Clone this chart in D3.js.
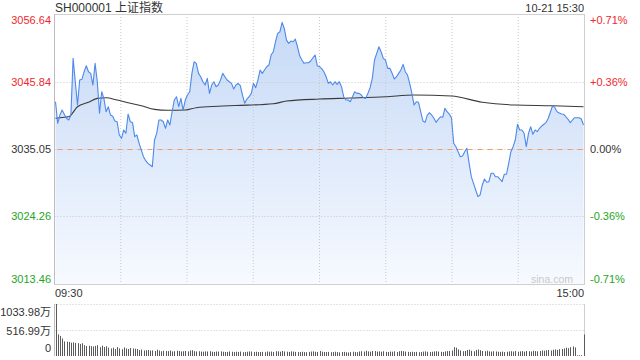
<!DOCTYPE html>
<html><head><meta charset="utf-8">
<script src="https://cdn.jsdelivr.net/npm/d3@7/dist/d3.min.js"></script>
<style>
html,body{margin:0;padding:0;background:#fff;}
svg{display:block;font-family:"Liberation Sans",Arial,"Noto Sans CJK SC",sans-serif;}
</style></head><body>
<svg id="c" width="640" height="360"></svg>
<script>
// ---- data ----
const title = "SH000001 上证指数";
const stamp = "10-21 15:30";
const preClose = 3035.05;
const priceTicks = [3056.64, 3045.84, 3035.05, 3024.26, 3013.46];
const pctTicks = ["+0.71%", "+0.36%", "0.00%", "-0.36%", "-0.71%"];
const timeLabels = ["09:30", "15:00"];
const volTicks = [1033.98, 516.99, 0];
const volTickLabels = ["1033.98万", "516.99万", "0"];

// one value per trading minute, 09:30 .. 11:30, 13:01 .. 15:00
const prices = [
3042.61,3039.16,3040.48,3041.28,3040.60,3039.96,3039.69,3040.48,3049.55,3045.81,
3042.08,3046.08,3046.20,3047.41,3048.37,3047.41,3047.15,3045.28,3048.75,3045.81,
3040.76,3044.21,3043.15,3041.01,3041.81,3040.48,3040.30,3039.53,3039.41,3037.29,
3036.76,3038.09,3037.56,3040.64,3039.41,3039.30,3037.02,3037.29,3035.96,3034.89,
3033.82,3033.18,3032.76,3032.49,3032.22,3036.49,3037.56,3039.69,3039.69,3039.41,
3038.36,3039.69,3038.89,3041.01,3042.88,3043.41,3041.81,3043.15,3041.28,3042.88,
3043.68,3044.21,3047.15,3049.00,3048.75,3047.15,3046.61,3045.81,3045.28,3046.35,
3043.95,3045.28,3045.81,3045.01,3045.28,3046.08,3047.15,3046.61,3046.08,3045.80,
3045.55,3044.64,3045.28,3045.55,3045.17,3043.68,3042.36,3043.04,3043.41,3043.95,
3045.55,3044.85,3046.08,3047.68,3047.15,3047.68,3048.21,3048.48,3050.08,3050.60,
3052.20,3053.54,3053.80,3055.30,3054.34,3052.47,3051.95,3052.31,3052.20,3052.63,
3051.40,3049.96,3049.28,3048.75,3048.84,3048.84,3049.12,3049.64,3050.08,3048.37,
3048.21,3047.90,3047.41,3046.61,3045.55,3045.81,3045.28,3045.81,3045.39,3045.81,
3045.01,3043.41,3042.88,3042.88,3042.61,3043.41,3044.21,3043.95,3043.95,3043.68,
3043.25,3043.15,3043.95,3044.85,3046.35,3049.28,3050.35,3051.40,3050.60,3049.55,
3049.28,3047.95,3047.95,3047.15,3046.24,3046.61,3047.15,3047.68,3048.59,3047.41,
3046.88,3045.55,3043.95,3042.08,3042.61,3042.52,3041.01,3039.53,3039.32,3040.48,
3040.85,3040.48,3039.96,3039.32,3039.80,3040.21,3040.12,3041.55,3041.01,3040.64,
3040.00,3035.96,3035.42,3034.62,3033.82,3033.93,3034.62,3035.16,3032.80,3030.62,
3029.56,3028.49,3027.43,3027.70,3029.30,3030.25,3029.73,3029.82,3031.17,3031.17,
3030.62,3030.62,3030.25,3029.82,3031.01,3031.01,3032.76,3034.62,3035.42,3036.49,
3039.00,3038.09,3038.09,3037.56,3035.42,3037.56,3038.61,3037.40,3038.09,3037.82,
3038.36,3038.72,3039.00,3039.32,3039.96,3041.01,3042.00,3041.65,3041.01,3040.80,
3040.64,3040.60,3040.21,3039.80,3039.26,3039.69,3040.05,3040.05,3040.05,3039.85,
3038.89
];

// average price line, read at these minute indexes
const avgMinutes = [0,5,6,10,15,19,23,28,33,39,45,51,59,64,74,82,99,105,120,134,150,163,180,194,209,226,240];
const avgPrices = [3039.96,3040.17,3040.21,3041.81,3042.52,3043.15,3043.25,3042.88,3042.45,3041.97,
3041.39,3041.24,3041.28,3041.65,3041.88,3042.00,3042.29,3042.72,3043.04,3043.20,
3043.41,3043.68,3043.52,3042.52,3042.08,3041.97,3041.81];

// volume per minute, in 万
const volumes = [
1033.98,430,400,350,290,285,280,265,270,260,255,
240,255,215,200,205,195,190,200,215,175,
205,180,195,165,150,165,140,178,150,135,
170,150,140,160,150,145,140,118,128,110,
115,120,108,112,100,125,110,95,105,100,
98,110,92,95,105,100,90,95,100,92,
108,115,96,90,95,88,85,92,90,95,
85,80,90,88,92,85,80,82,90,85,
78,85,82,88,75,80,85,92,88,80,
85,78,80,82,75,90,85,88,80,95,
92,85,100,90,86,80,92,88,82,78,
80,85,78,75,82,88,92,85,80,100,
85,80,78,82,75,80,85,78,72,80,
82,75,70,78,85,80,75,90,95,88,
105,92,85,100,98,88,92,85,95,82,
80,88,85,92,78,95,100,96,88,82,
80,85,78,82,75,80,88,92,85,80,
85,90,95,88,82,80,92,98,100,110,
175,165,130,110,95,100,120,125,105,95,
120,130,115,100,95,105,92,88,95,90,
85,82,88,80,85,92,95,88,100,85,
92,98,85,100,95,90,105,98,92,100,
110,105,115,120,110,125,130,120,135,140,
150,165,155,175,190,170,15,15,15,426
];

// ---- layout ----
const L = 54.5, R = 584.5, T = 14, B = 284;
const VT = 304, VB = 356;
const RED = "#f0282d", GREEN = "#1ea51e", TXT = "#333";

const svg = d3.select("#c");
const x = d3.scaleLinear().domain([0, 240]).range([55.5, 583.5]);
const y = d3.scaleLinear().domain([priceTicks[4], priceTicks[0]]).range([B, T]);
const yv = d3.scaleLinear().domain([0, volTicks[0]]).range([VB, VT]);
const gx = d3.scaleLinear().domain([0, 8]).range([L, R]);

// gradient
const defs = svg.append("defs");
const grad = defs.append("linearGradient").attr("id", "fillg")
  .attr("gradientUnits", "userSpaceOnUse").attr("x1", 0).attr("y1", T).attr("x2", 0).attr("y2", B);
grad.append("stop").attr("offset", 0).attr("stop-color", "#c4d8f6");
grad.append("stop").attr("offset", 1).attr("stop-color", "#f7faff");

// area fill
const area = d3.area().x((d, i) => x(i)).y0(B).y1(d => y(d));
svg.append("path").datum(prices).attr("d", area).attr("fill", "url(#fillg)");

// grid
const grid = svg.append("g");
for (let i = 1; i < 8; i++) {
  grid.append("line").attr("x1", gx(i)).attr("x2", gx(i)).attr("y1", T).attr("y2", B)
    .attr("stroke", "#c8c8c8").attr("stroke-dasharray", "1,2");
}
priceTicks.slice(1, 4).forEach(v => {
  grid.append("line").attr("x1", L).attr("x2", R).attr("y1", Math.round(y(v)) + 0.5).attr("y2", Math.round(y(v)) + 0.5)
    .attr("stroke", "#c8c8c8").attr("stroke-dasharray", "1,2");
});
// pre-close dashed
svg.append("line").attr("x1", L).attr("x2", R).attr("y1", Math.round(y(preClose)) + 0.5).attr("y2", Math.round(y(preClose)) + 0.5)
  .attr("stroke", "#f39a6c").attr("stroke-width", 1).attr("stroke-dasharray", "5,5").attr("stroke-dashoffset", -3);

// border
svg.append("rect").attr("x", L).attr("y", T + 0.5).attr("width", R - L).attr("height", B - T)
  .attr("fill", "none").attr("stroke", "#cfcfcf");
svg.append("line").attr("x1", L).attr("x2", L).attr("y1", T).attr("y2", B).attr("stroke", "#bdbdbd");

// watermark
svg.append("text").attr("x", 573).attr("y", 283).attr("text-anchor", "end")
  .attr("font-size", 10.5).attr("fill", "#c9c9c9").text("sina.com");

// avg line
const avgLine = d3.line().x(d => x(d[0])).y(d => y(d[1])).curve(d3.curveMonotoneX);
svg.append("path").datum(avgMinutes.map((m, i) => [m, avgPrices[i]])).attr("d", avgLine)
  .attr("fill", "none").attr("stroke", "#3a3a3a").attr("stroke-width", 1.1);

// price line
const line = d3.line().x((d, i) => x(i)).y(d => y(d));
svg.append("path").datum(prices).attr("d", line)
  .attr("fill", "none").attr("stroke", "#4d89ea").attr("stroke-width", 1.1).attr("stroke-linejoin", "round");

// left price labels
const lblY = [24, null, null, null, 283];
priceTicks.forEach((v, i) => {
  const yy = lblY[i] !== null ? lblY[i] : y(v) + 4;
  const col = v > preClose ? RED : (v < preClose ? GREEN : TXT);
  svg.append("text").attr("x", 51).attr("y", yy).attr("text-anchor", "end")
    .attr("font-size", 11).attr("fill", col).text(v.toFixed(2));
  svg.append("text").attr("x", 590).attr("y", yy).attr("text-anchor", "start")
    .attr("font-size", 11).attr("fill", col).text(pctTicks[i]);
});

// title and stamp
svg.append("text").attr("x", 55).attr("y", 12).attr("font-size", 12).attr("fill", TXT).text(title);
svg.append("text").attr("x", 584).attr("y", 12).attr("text-anchor", "end").attr("font-size", 11).attr("fill", TXT).text(stamp);

// time labels
svg.append("text").attr("x", 55).attr("y", 297).attr("font-size", 11).attr("fill", TXT).text(timeLabels[0]);
svg.append("text").attr("x", 584).attr("y", 297).attr("text-anchor", "end").attr("font-size", 11).attr("fill", TXT).text(timeLabels[1]);

// volume panel
svg.append("line").attr("x1", L).attr("x2", R).attr("y1", VT + 0.5).attr("y2", VT + 0.5).attr("stroke", "#c8c8c8").attr("stroke-dasharray", "1,2");
svg.append("line").attr("x1", L).attr("x2", R).attr("y1", Math.round(yv(volTicks[1])) + 0.5).attr("y2", Math.round(yv(volTicks[1])) + 0.5).attr("stroke", "#c8c8c8").attr("stroke-dasharray", "1,2");
svg.append("line").attr("x1", L).attr("x2", L).attr("y1", VT).attr("y2", VB).attr("stroke", "#bdbdbd");
svg.append("line").attr("x1", R).attr("x2", R).attr("y1", VT).attr("y2", VB).attr("stroke", "#cfcfcf");
svg.append("g").selectAll("rect").data(volumes).join("rect")
  .attr("x", (d, i) => Math.round(x(i)))
  .attr("y", d => yv(d))
  .attr("width", 1)
  .attr("height", d => VB - yv(d))
  .attr("fill", "#5a5a5a");
const vLblY = [316, 335, 352];
volTicks.forEach((v, i) => {
  svg.append("text").attr("x", 51).attr("y", vLblY[i]).attr("text-anchor", "end")
    .attr("font-size", 11).attr("fill", TXT).text(volTickLabels[i]);
});
</script>
</body></html>
